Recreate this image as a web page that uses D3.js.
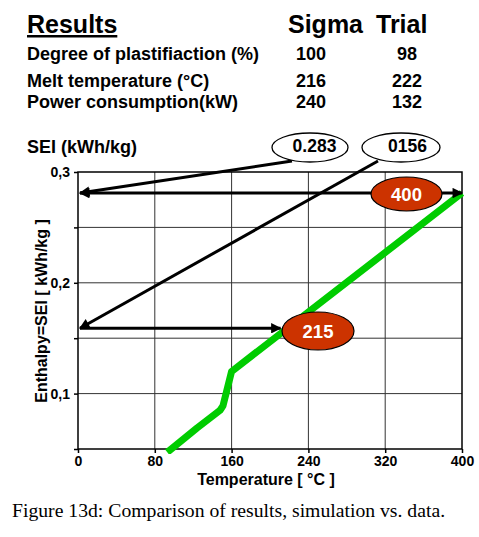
<!DOCTYPE html>
<html><head><meta charset="utf-8">
<script src="https://cdn.jsdelivr.net/npm/d3@7"></script>
<style>body{margin:0;background:#fff}svg{display:block}</style>
</head><body><svg id="c" width="479" height="537"></svg>
<script>
// Data
const rowLabels = ["Degree of plastifiaction (%)", "Melt temperature (°C)", "Power consumption(kW)"];
const sigmaValues = ["100", "216", "240"];
const trialValues = ["98", "222", "132"];
const seiLabels = ["0.283", "0156"];
const seiLevels = [0.281, 0.159];
const meltLabels = ["400", "215"];
const meltTemps = [400, 211];
const enthalpyCurve = [[93, 0.047], [124, 0.069], [148, 0.085], [151, 0.089], [160, 0.12], [400, 0.281]];
const xTicks = [0, 80, 160, 240, 320, 400];
const yTicks = [0.1, 0.15, 0.2, 0.25, 0.3];
const yTickLabels = {"0.1": "0,1", "0.2": "0,2", "0.3": "0,3"};

const svg = d3.select("#c");
const L = 78, R = 462, T = 172, B = 449;
const x = d3.scaleLinear().domain([0, 400]).range([L, R]);
const y = d3.scaleLinear().domain([0.05, 0.3]).range([B, T]);
const bold = "Liberation Sans, Arial, sans-serif";

// Header table
svg.append("text").attr("x", 27).attr("y", 33).attr("font-family", bold).attr("font-weight", "bold")
  .attr("font-size", 25).attr("text-decoration", "underline").text("Results");
svg.append("text").attr("x", 288).attr("y", 33).attr("font-family", bold).attr("font-weight", "bold")
  .attr("font-size", 25).text("Sigma");
svg.append("text").attr("x", 376).attr("y", 33).attr("font-family", bold).attr("font-weight", "bold")
  .attr("font-size", 25).text("Trial");
const rowY = [60, 87, 108];
rowLabels.forEach((l, i) => {
  svg.append("text").attr("x", 27).attr("y", rowY[i]).attr("font-family", bold).attr("font-weight", "bold")
    .attr("font-size", 18).text(l);
  svg.append("text").attr("x", 311).attr("y", rowY[i]).attr("text-anchor", "middle").attr("font-family", bold)
    .attr("font-weight", "bold").attr("font-size", 18).text(sigmaValues[i]);
  svg.append("text").attr("x", 407).attr("y", rowY[i]).attr("text-anchor", "middle").attr("font-family", bold)
    .attr("font-weight", "bold").attr("font-size", 18).text(trialValues[i]);
});
svg.append("text").attr("x", 27).attr("y", 153).attr("font-family", bold).attr("font-weight", "bold")
  .attr("font-size", 18).text("SEI (kWh/kg)");

// Grid
const g = svg.append("g");
g.selectAll(".vg").data(xTicks.slice(1, -1)).join("line")
  .attr("x1", d => x(d)).attr("x2", d => x(d)).attr("y1", T).attr("y2", B)
  .attr("stroke", "#333").attr("stroke-width", 1);
g.selectAll(".hg").data(yTicks.slice(0, -1)).join("line")
  .attr("x1", L).attr("x2", R).attr("y1", d => y(d)).attr("y2", d => y(d))
  .attr("stroke", "#333").attr("stroke-width", 1);
g.append("rect").attr("x", L).attr("y", T).attr("width", R - L).attr("height", B - T)
  .attr("fill", "none").attr("stroke", "#000").attr("stroke-width", 1.5);

// Axes
const xAxis = svg.append("g").attr("transform", `translate(0,${B})`)
  .call(d3.axisBottom(x).tickValues(xTicks).tickSize(4).tickPadding(3));
const yAxis = svg.append("g").attr("transform", `translate(${L},0)`)
  .call(d3.axisLeft(y).tickValues(yTicks.concat([0.05])).tickSize(4).tickPadding(4)
    .tickFormat(d => yTickLabels[String(d)] || ""));
[xAxis, yAxis].forEach(a => {
  a.select(".domain").remove();
  a.selectAll("line").attr("stroke", "#000").attr("stroke-width", 1.5);
  a.selectAll("text").attr("font-family", bold).attr("font-weight", "bold").attr("font-size", 14).attr("fill", "#000");
});
svg.append("text").attr("x", 266).attr("y", 485).attr("text-anchor", "middle").attr("font-family", bold)
  .attr("font-weight", "bold").attr("font-size", 16).text("Temperature [ °C ]");
svg.append("text").attr("transform", "translate(47,311) rotate(-90)").attr("text-anchor", "middle")
  .attr("font-family", bold).attr("font-weight", "bold").attr("font-size", 16).text("Enthalpy=SEI [ kWh/kg ]");

// Green curve
svg.append("clipPath").attr("id", "clp").append("rect").attr("x", L - 10).attr("y", T).attr("width", R - L + 20).attr("height", B - T + 5);
svg.append("path").datum(enthalpyCurve).attr("clip-path", "url(#clp)")
  .attr("d", d3.line().x(d => x(d[0])).y(d => y(d[1])))
  .attr("fill", "none").attr("stroke", "#00cc00").attr("stroke-width", 7).attr("stroke-linejoin", "round");

// Arrow marker
const defs = svg.append("defs");
defs.append("marker").attr("id", "ah").attr("viewBox", "0 0 10 10").attr("refX", 9).attr("refY", 5)
  .attr("markerWidth", 4.5).attr("markerHeight", 3.5).attr("markerUnits", "strokeWidth").attr("orient", "auto-start-reverse")
  .append("path").attr("d", "M0,0L10,5L0,10Z").attr("fill", "#000");

// Top ellipses
const topEll = [{cx: 310, cy: 147.5, rx: 38, ry: 14.5, tx: 314.5}, {cx: 401, cy: 147.5, rx: 39, ry: 14.5, tx: 407.5}];
const lineStarts = [[292, 161], [378, 161]];
seiLabels.forEach((s, i) => {
  svg.append("line").attr("x1", lineStarts[i][0]).attr("y1", lineStarts[i][1])
    .attr("x2", x(0) + 2).attr("y2", y(seiLevels[i]))
    .attr("stroke", "#000").attr("stroke-width", 3).attr("marker-end", "url(#ah)");
  const e = topEll[i];
  svg.append("ellipse").attr("cx", e.cx).attr("cy", e.cy).attr("rx", e.rx).attr("ry", e.ry)
    .attr("fill", "#fff").attr("stroke", "#000").attr("stroke-width", 1.3);
  svg.append("text").attr("x", e.tx).attr("y", 152).attr("text-anchor", "middle").attr("font-family", bold)
    .attr("font-weight", "bold").attr("font-size", 17.5).text(s);
});

// Horizontal arrows
svg.append("line").attr("x1", x(0) + 2).attr("x2", x(meltTemps[0])).attr("y1", y(seiLevels[0])).attr("y2", y(seiLevels[0]))
  .attr("stroke", "#000").attr("stroke-width", 3).attr("marker-start", "url(#ah)").attr("marker-end", "url(#ah)");
svg.append("line").attr("x1", x(0) + 2).attr("x2", x(meltTemps[1])).attr("y1", y(seiLevels[1])).attr("y2", y(seiLevels[1]))
  .attr("stroke", "#000").attr("stroke-width", 3).attr("marker-end", "url(#ah)");

// Red ellipses
const redEll = [{cx: 406.5, cy: 194, rx: 35.5, ry: 17}, {cx: 318, cy: 331, rx: 36, ry: 19}];
meltLabels.forEach((s, i) => {
  const e = redEll[i];
  svg.append("ellipse").attr("cx", e.cx).attr("cy", e.cy).attr("rx", e.rx).attr("ry", e.ry)
    .attr("fill", "#cc3300").attr("stroke", "#000").attr("stroke-width", 1.2);
  svg.append("text").attr("x", e.cx).attr("y", e.cy + 6.5).attr("text-anchor", "middle").attr("font-family", bold)
    .attr("font-weight", "bold").attr("font-size", 18.5).attr("fill", "#fff").text(s);
});

// Caption
svg.append("text").attr("x", 12).attr("y", 517).attr("font-family", "Liberation Serif, Times New Roman, serif")
  .attr("font-size", 19.7).text("Figure 13d: Comparison of results, simulation vs. data.");
</script></body></html>
